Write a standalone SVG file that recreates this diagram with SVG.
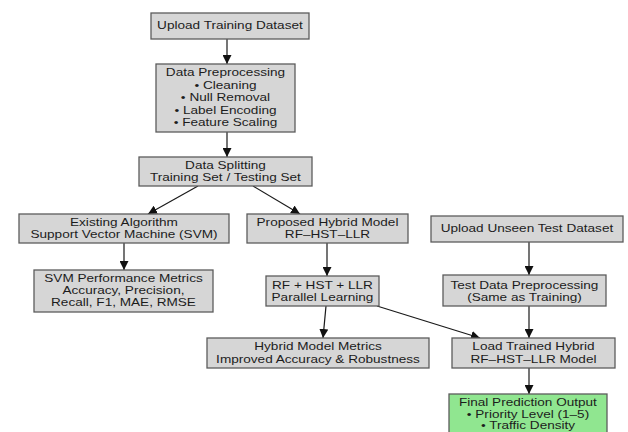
<svg xmlns="http://www.w3.org/2000/svg" width="628" height="432" viewBox="0 0 628 432">
<defs>
<marker id="ah" markerUnits="userSpaceOnUse" markerWidth="9" markerHeight="9" refX="9" refY="4.5" orient="auto">
<path d="M0,0 L9,4.5 L0,9 z" fill="#111"/>
</marker>
<style>
.box{fill:#d6d6d6;stroke:#5c5c5c;stroke-width:1.3}
.green{fill:#90e690;stroke:#5c5c5c;stroke-width:1.3}
text{font-family:"Liberation Sans",Arial,sans-serif;font-size:10.7px;fill:#1c1c1c;text-anchor:middle;transform-box:fill-box;transform-origin:center;transform:scaleX(1.27)}
text.s{font-size:10.2px;transform:scaleX(1.33)}
.c{stroke:#1a1a1a;stroke-width:1.2;fill:none;marker-end:url(#ah)}
</style>
</defs>
<rect width="628" height="432" fill="#fff"/>
<g id="connectors">
<line class="c" x1="227" y1="39" x2="227" y2="64"/>
<line class="c" x1="227" y1="132" x2="227" y2="157"/>
<line class="c" x1="198" y1="186" x2="148" y2="214"/>
<line class="c" x1="253" y1="186" x2="300" y2="214"/>
<line class="c" x1="124" y1="243" x2="124" y2="270"/>
<line class="c" x1="327" y1="243" x2="327" y2="276"/>
<line class="c" x1="529" y1="242" x2="529" y2="275"/>
<line class="c" x1="326" y1="306" x2="323" y2="338"/>
<line class="c" x1="377" y1="306" x2="480" y2="338"/>
<line class="c" x1="529" y1="306" x2="529" y2="338"/>
<line class="c" x1="529" y1="368" x2="529" y2="394"/>
</g>
<g id="n1"><rect class="box" x="151" y="13" width="158" height="26"/><text x="230" y="29.5">Upload Training Dataset</text></g>
<g id="n2"><rect class="box" x="156" y="64" width="139" height="68"/>
<text x="225.5" y="76.5">Data Preprocessing</text>
<text x="225.5" y="89">• Cleaning</text>
<text x="225.5" y="101.3">• Null Removal</text>
<text x="225.5" y="113.6">• Label Encoding</text>
<text x="225.5" y="126">• Feature Scaling</text></g>
<g id="n3"><rect class="box" x="139" y="157" width="173" height="29"/>
<text x="225.5" y="169.5">Data Splitting</text>
<text x="225.5" y="181.5">Training Set / Testing Set</text></g>
<g id="n4"><rect class="box" x="19" y="214" width="210" height="29"/>
<text x="124" y="226.5">Existing Algorithm</text>
<text x="124" y="238.5">Support Vector Machine (SVM)</text></g>
<g id="n5"><rect class="box" x="34" y="270" width="179" height="42"/>
<text x="123.5" y="282">SVM Performance Metrics</text>
<text x="123.5" y="294">Accuracy, Precision,</text>
<text x="123.5" y="306">Recall, F1, MAE, RMSE</text></g>
<g id="n6"><rect class="box" x="247" y="214" width="161" height="29"/>
<text x="327.5" y="226.5">Proposed Hybrid Model</text>
<text x="327.5" y="238.5">RF–HST–LLR</text></g>
<g id="n7"><rect class="box" x="266" y="276" width="113" height="30"/>
<text x="322.5" y="289">RF + HST + LLR</text>
<text x="322.5" y="301">Parallel Learning</text></g>
<g id="n8"><rect class="box" x="431" y="216" width="192" height="26"/>
<text x="527" y="232.5">Upload Unseen Test Dataset</text></g>
<g id="n9"><rect class="box" x="443" y="275" width="163" height="31"/>
<text x="524.5" y="289">Test Data Preprocessing</text>
<text x="524.5" y="301">(Same as Training)</text></g>
<g id="n10"><rect class="box" x="207" y="338" width="222" height="30"/>
<text x="318" y="350.5">Hybrid Model Metrics</text>
<text x="318" y="362.8">Improved Accuracy &amp; Robustness</text></g>
<g id="n11"><rect class="box" x="452" y="338" width="163" height="30"/>
<text x="533.5" y="350.5">Load Trained Hybrid</text>
<text x="533.5" y="362.8">RF–HST–LLR Model</text></g>
<g id="n12"><rect class="green" x="449" y="394" width="158" height="50"/>
<text class="s" x="528" y="406.5">Final Prediction Output</text>
<text class="s" x="528" y="418">• Priority Level (1–5)</text>
<text class="s" x="528" y="429.5">• Traffic Density</text>
</g>
</svg>
